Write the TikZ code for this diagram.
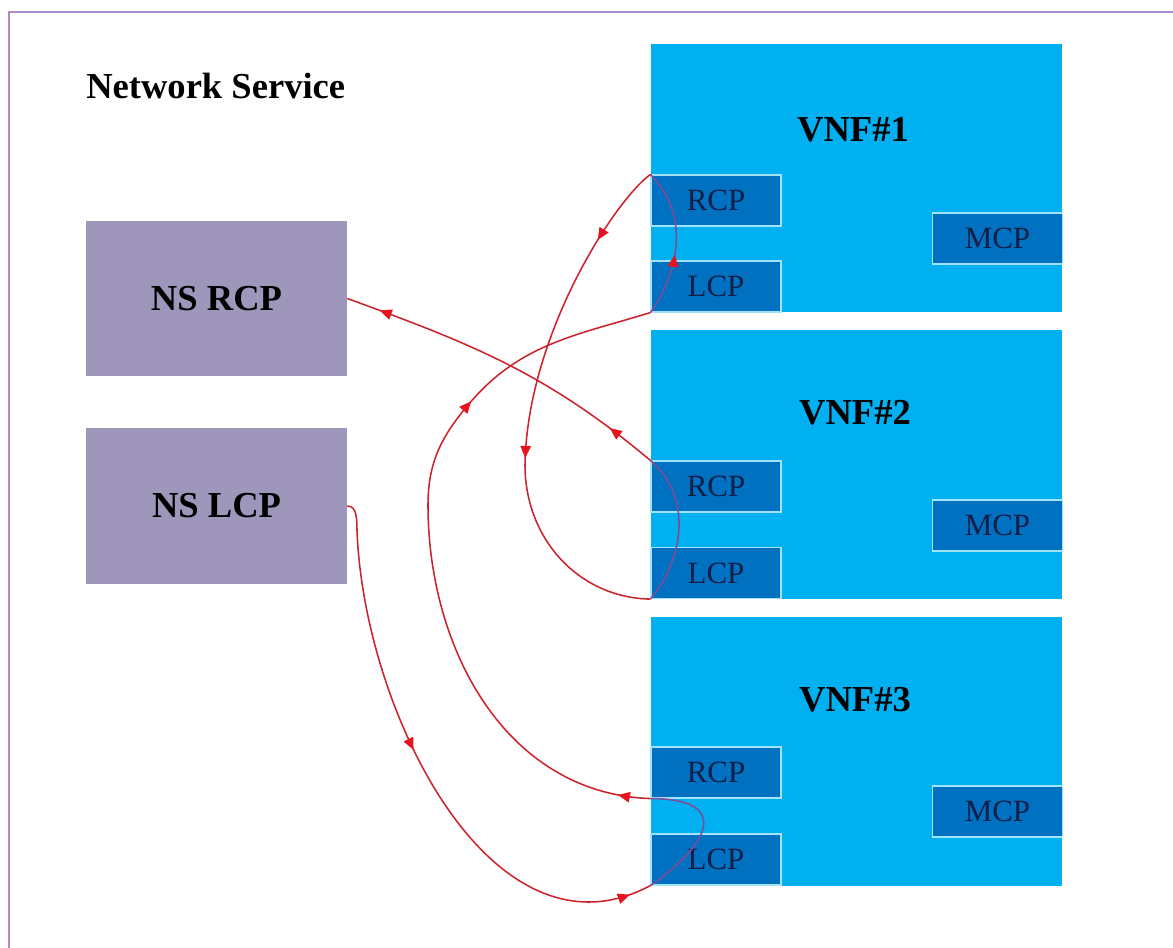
\documentclass[tikz,border=0pt]{standalone}
\usepackage{fontspec}
\setmainfont{Liberation Serif}
\usetikzlibrary{arrows.meta,decorations.markings}

\definecolor{framepurple}{RGB}{172,140,198}
\definecolor{vnfcyan}{RGB}{0,176,240}
\definecolor{cpblue}{RGB}{0,112,192}
\definecolor{cpedge}{RGB}{160,228,250}
\definecolor{nsgrey}{RGB}{158,151,187}
\definecolor{cptext}{RGB}{20,30,70}
\definecolor{linkred}{RGB}{205,35,45}
\definecolor{tipred}{RGB}{230,20,30}
\definecolor{linkpurple}{RGB}{130,75,150}

\newcommand\linktip{\arrow{Triangle[length=3mm,width=2.6mm,color=tipred]}}

\tikzset{
  vnfbox/.style={rectangle, fill=vnfcyan, minimum width=10.275cm, minimum height=6.7cm, inner sep=0pt},
  cpbox/.style={rectangle, fill=cpblue, draw=cpedge, line width=0.8pt,
    minimum width=3.25cm, minimum height=1.275cm, inner sep=0pt,
    text=cptext, font=\fontsize{22}{26}\selectfont},
  nsbox/.style={rectangle, fill=nsgrey, minimum width=6.525cm, minimum height=3.875cm,
    inner sep=0pt, font=\fontsize{26}{30}\selectfont\bfseries},
  biglabel/.style={font=\fontsize{26}{30}\selectfont\bfseries, inner sep=0pt},
  link/.style={draw=linkred, line width=1.1pt},
  innerlink/.style={draw=linkpurple, line width=1.1pt},
  onetip/.style={decoration={markings, mark=at position #1 with {\linktip}}, postaction=decorate},
  twotips/.style 2 args={decoration={markings,
      mark=at position #1 with {\linktip},
      mark=at position #2 with {\linktip}}, postaction=decorate},
}

\begin{document}
\begin{tikzpicture}[x=0.025cm, y=-0.025cm]
  \useasboundingbox (0,0) rectangle (1173,948);

  % outer frame (top and left edges)
  \coordinate (frametl) at (9,12);
  \draw[framepurple, line width=2pt] (9,948) -- (frametl) -- (1173,12);

  \node[biglabel, anchor=west] (title) at (86,86) {Network Service};

  % network service control points
  \node[nsbox] (nsrcp) at (216.5,298.5) {NS RCP};
  \node[nsbox] (nslcp) at (216.5,506) {NS LCP};

  % VNF containers
  \node[vnfbox] (vnf1) at (856.5,178) {};
  \node[vnfbox] (vnf2) at (856.5,464.5) {};
  \node[vnfbox] (vnf3) at (856.5,751.5) {};
  \node[biglabel] (vnf1t) at (853,130) {VNF\#1};
  \node[biglabel] (vnf2t) at (855,413) {VNF\#2};
  \node[biglabel] (vnf3t) at (855,700) {VNF\#3};

  % control points inside each VNF
  \node[cpbox] (rcp1) at (716,200.5) {RCP};
  \node[cpbox] (lcp1) at (716,286.5) {LCP};
  \node[cpbox] (mcp1) at (997.5,238.5) {MCP};
  \node[cpbox] (rcp2) at (716,486.5) {RCP};
  \node[cpbox] (lcp2) at (716,573) {LCP};
  \node[cpbox] (mcp2) at (997.5,525.5) {MCP};
  \node[cpbox] (rcp3) at (716,772.5) {RCP};
  \node[cpbox] (lcp3) at (716,859.5) {LCP};
  \node[cpbox] (mcp3) at (997.5,811.5) {MCP};

  % control chain
  \draw[link, twotips={0.455}{0.96}] (nslcp.east) to[out=0,in=92] (357,530)
        to[out=-88,in=208] (lcp3.south west);
  \draw[innerlink] (lcp3.south west) to[out=35,in=0,looseness=2.3] (rcp3.south west);
  \draw[link, twotips={0.045}{0.72}] (rcp3.south west) to[out=178,in=270] (428,505)
        to[out=90,in=230] (468,405) to[out=50,in=197] (lcp1.south west);
  \draw[innerlink, onetip=0.42] (lcp1.south west) to[out=55,in=-45] (rcp1.north west);
  \draw[link, twotips={0.16}{0.6}] (rcp1.north west)
        .. controls (615,200) and (527,335) .. (525,465)
        .. controls (525,540) and (580,598) .. (lcp2.south west);
  \draw[innerlink] (lcp2.south west) to[out=50,in=-40] (rcp2.north west);
  \draw[link, twotips={0.15}{0.9}] (rcp2.north west) to[out=140,in=-20] (nsrcp.east);
\end{tikzpicture}
\end{document}
